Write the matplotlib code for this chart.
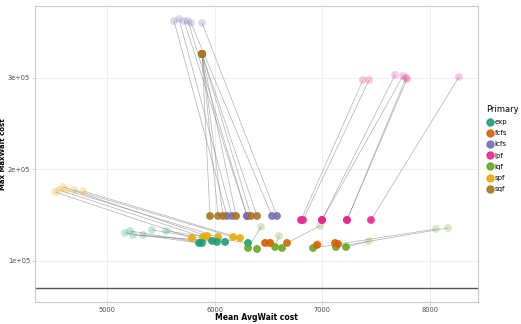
import matplotlib
matplotlib.use('Agg')
import matplotlib.pyplot as plt
from matplotlib.lines import Line2D
from matplotlib.ticker import FuncFormatter

# policies and their colours (Dark2)
policies = ['exp', 'fcfs', 'lcfs', 'lpf', 'lqf', 'spf', 'sqf']
pol_colors = ['#1B9E77', '#D95F02', '#7570B3', '#E7298A', '#66A61E', '#E6AB02', '#A6761D']

# segment starts (faded, except the sqf one at the top)
start_x = [5622, 5669, 5715, 5752, 5780, 5882,
           5882, 5882, 5882, 5882, 5882, 5882,
           7377, 7433, 7674, 7748, 7776, 7786, 8268,
           4517, 4554, 4591, 4619, 4694, 4777,
           5167, 5214, 5241, 5334, 5418, 5548,
           6430, 6597, 6978, 7433, 8055, 8166,
           6470, 6520, 6960, 7130]
start_y = [362300, 364500, 362300, 362300, 360100, 360100,
           326300, 326300, 326300, 326300, 326300, 326300,
           297800, 297800, 303300, 302200, 300000, 298900, 301100,
           175400, 177600, 180900, 177600, 177600, 176500,
           130600, 132800, 128400, 128400, 133900, 132800,
           137200, 127300, 138300, 121900, 135000, 136100,
           119700, 120000, 118600, 119200]
start_pol = ['lcfs'] * 6 + ['sqf'] * 6 + ['lpf'] * 7 + ['spf'] * 6 + ['exp'] * 6 + ['lqf'] * 6 + ['fcfs'] * 4
start_solid = [False] * 6 + [True] * 6 + [False] * 29

# segment ends (solid)
end_x = [6114, 6161, 6300, 6300, 6532, 6578,
         5956, 6031, 6077, 6198, 6337, 6393,
         6801, 6820, 6996, 6996, 7228, 7228, 7451,
         5789, 5891, 5929, 6031, 6170, 6235,
         5854, 5882, 5975, 6021, 6096, 6309,
         6309, 6560, 6671, 7219, 6913, 7126,
         6467, 6513, 6950, 7145]
end_y = [149200, 149200, 149200, 149200, 149200, 149200,
         149200, 149200, 149200, 149200, 149200, 149200,
         144800, 144800, 144800, 144800, 144800, 144800, 144800,
         125100, 126200, 127300, 126200, 126200, 125100,
         119700, 119700, 121900, 120800, 120800, 119700,
         114200, 115300, 119700, 115300, 114200, 115300,
         119700, 119700, 117500, 118600]
end_pol = ['lcfs'] * 6 + ['sqf'] * 6 + ['lpf'] * 7 + ['spf'] * 6 + ['exp'] * 6 + ['lqf'] * 2 + ['fcfs'] + ['lqf'] * 3 + ['fcfs'] * 4

# extra solid points without a partner
extra_x = [6625, 7117, 6393]
extra_y = [114200, 119700, 113100]
extra_pol = ['lqf', 'fcfs', 'lqf']

ref_line = 70000

cmap = dict(zip(policies, pol_colors))

fig = plt.figure(figsize=(5.21, 3.24), dpi=100)
ax = fig.add_axes([0.0672, 0.068, 0.8503, 0.9135])

for x0, y0, x1, y1 in zip(start_x, start_y, end_x, end_y):
    ax.plot([x0, x1], [y0, y1], color='#7f7f7f', lw=0.5, alpha=0.6, zorder=2)

faded = [i for i, s in enumerate(start_solid) if not s]
solid = [i for i, s in enumerate(start_solid) if s]
ax.scatter([start_x[i] for i in faded], [start_y[i] for i in faded],
           c=[cmap[start_pol[i]] for i in faded], s=32, alpha=0.25,
           edgecolors='none', zorder=3)
ax.scatter([start_x[i] for i in solid], [start_y[i] for i in solid],
           c=[cmap[start_pol[i]] for i in solid], s=32, alpha=0.9,
           edgecolors='none', zorder=4)
ax.scatter(end_x, end_y, c=[cmap[p] for p in end_pol], s=32, alpha=0.9,
           edgecolors='none', zorder=4)
ax.scatter(extra_x, extra_y, c=[cmap[p] for p in extra_pol], s=32, alpha=0.9,
           edgecolors='none', zorder=4)

ax.axhline(ref_line, color='#555555', lw=1.0, zorder=2)

ax.set_xlim(4331, 8445)
ax.set_ylim(55200, 378700)
ax.set_xticks([5000, 6000, 7000, 8000])
ax.set_yticks([100000, 200000, 300000])
ax.yaxis.set_major_formatter(FuncFormatter(lambda v, p: '%de+05' % round(v / 1e5)))
ax.grid(True, color='#ebebeb', lw=0.6)
ax.set_axisbelow(True)
for s in ax.spines.values():
    s.set_color('#c8c8c8')
    s.set_linewidth(0.8)
ax.tick_params(axis='both', labelsize=4.8, colors='#b3b3b3', length=2, width=0.5,
               labelcolor='#4d4d4d', pad=1.5)
fig.text(0.493, 0.005, 'Mean AvgWait cost', fontsize=5.5, fontweight='bold',
         ha='center', va='bottom')
fig.text(0.0, 0.525, 'Max MaxWait cost', fontsize=5, fontweight='bold',
         ha='left', va='center', rotation=90)

handles = [Line2D([], [], ls='none', marker='o', ms=5, color=c, alpha=0.9) for c in pol_colors]
leg = fig.legend(handles, policies, title='Primary', loc='upper left',
                 bbox_to_anchor=(0.928, 0.685), frameon=False, fontsize=5,
                 title_fontsize=6, handletextpad=0.2, labelspacing=0.75,
                 handlelength=1.0, borderaxespad=0)
leg._legend_box.align = 'left'

fig.savefig('out.png', dpi=100)
